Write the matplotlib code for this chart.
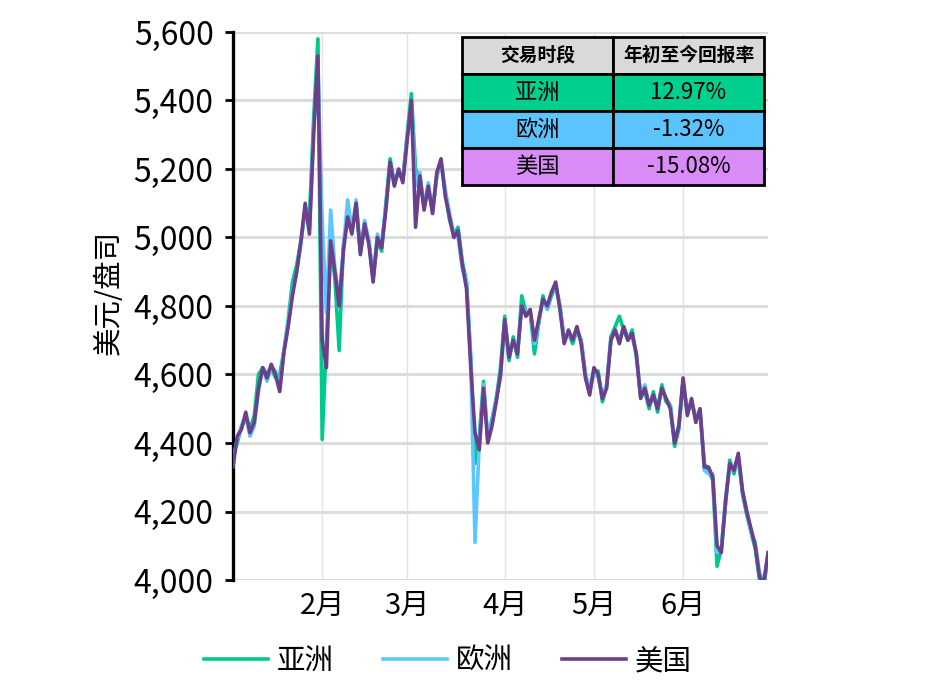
import numpy as np
import matplotlib
matplotlib.use('Agg')
import matplotlib.pyplot as plt
from matplotlib.ticker import FuncFormatter

plt.rcParams['font.family'] = ['Noto Sans CJK SC', 'DejaVu Sans']

# =====================================================================
# DATOS (índice de día hábil, ene-jun)
# =====================================================================
mes_pos = [21, 41, 64, 85, 106]
mes_lab = ['2月', '3月', '4月', '5月', '6月']

asia = [4360, 4400, 4450, 4470, 4440, 4480, 4600, 4620, 4600, 4620,
        4590, 4600, 4670, 4760, 4870, 4920, 4990, 5080, 5060, 5350,
        5580, 4410, 4700, 4980, 4880, 4670, 4980, 5050, 5020, 5090,
        4960, 5030, 4990, 4880, 4990, 4960, 5100, 5230, 5160, 5190,
        5170, 5300, 5420, 5200, 5170, 5090, 5140, 5080, 5180, 5220,
        5130, 5050, 5010, 5030, 4930, 4870, 4650, 4340, 4420, 4580,
        4410, 4470, 4530, 4620, 4770, 4640, 4710, 4650, 4830, 4780,
        4780, 4660, 4750, 4830, 4790, 4830, 4860, 4800, 4700, 4720,
        4690, 4730, 4700, 4600, 4550, 4610, 4610, 4520, 4570, 4710,
        4740, 4770, 4730, 4700, 4730, 4650, 4540, 4550, 4500, 4550,
        4490, 4570, 4520, 4510, 4390, 4440, 4580, 4490, 4520, 4470,
        4490, 4340, 4320, 4290, 4040, 4090, 4220, 4350, 4310, 4360,
        4250, 4190, 4140, 4090, 4000, 3980, 4070]

europa = [4350, 4410, 4450, 4480, 4420, 4450, 4550, 4620, 4580, 4620,
          4610, 4560, 4670, 4750, 4840, 4900, 4980, 5090, 5020, 5320,
          5480, 5050, 4780, 5080, 4910, 4820, 4970, 5110, 5020, 5110,
          4960, 5050, 4990, 4880, 5010, 4980, 5090, 5210, 5160, 5190,
          5170, 5290, 5390, 5150, 5190, 5090, 5160, 5070, 5180, 5220,
          5140, 5070, 5010, 5000, 4910, 4870, 4640, 4110, 4400, 4570,
          4420, 4460, 4530, 4590, 4760, 4660, 4700, 4670, 4800, 4780,
          4780, 4690, 4750, 4820, 4790, 4840, 4860, 4800, 4700, 4720,
          4700, 4730, 4700, 4600, 4560, 4610, 4590, 4540, 4570, 4700,
          4730, 4700, 4740, 4710, 4710, 4660, 4540, 4570, 4510, 4530,
          4510, 4560, 4530, 4510, 4410, 4450, 4580, 4490, 4520, 4470,
          4500, 4320, 4310, 4310, 4080, 4090, 4240, 4340, 4320, 4360,
          4260, 4200, 4140, 4110, 4020, 4000, 4070]

eeuu = [4330, 4420, 4440, 4490, 4430, 4460, 4560, 4620, 4590, 4630,
        4600, 4550, 4665, 4740, 4830, 4900, 4990, 5100, 5010, 5300,
        5530, 4700, 4620, 4990, 4900, 4800, 4960, 5060, 5010, 5100,
        4950, 5040, 4980, 4870, 5000, 4970, 5080, 5220, 5150, 5200,
        5160, 5280, 5400, 5030, 5180, 5080, 5150, 5070, 5190, 5230,
        5120, 5060, 5000, 5020, 4920, 4850, 4620, 4430, 4380, 4560,
        4400, 4450, 4520, 4600, 4760, 4650, 4700, 4660, 4800, 4770,
        4790, 4700, 4760, 4820, 4800, 4840, 4870, 4790, 4690, 4730,
        4700, 4740, 4690, 4590, 4540, 4620, 4600, 4530, 4560, 4700,
        4730, 4690, 4740, 4700, 4720, 4660, 4530, 4560, 4510, 4540,
        4500, 4560, 4530, 4500, 4400, 4450, 4590, 4480, 4530, 4460,
        4500, 4330, 4330, 4300, 4100, 4080, 4230, 4340, 4320, 4370,
        4260, 4200, 4150, 4100, 4010, 3990, 4080]

tabla_col = ['交易时段', '年初至今回报率']
tabla_reg = ['亚洲', '欧洲', '美国']
tabla_ret = ['12.97%', '-1.32%', '-15.08%']

COLOR_LINEA = {'亚洲': '#00C98D', '欧洲': '#5CC6FF', '美国': '#6C3F8C'}
COLOR_TABLA = {'亚洲': '#00CF8F', '欧洲': '#5CC4FC', '美国': '#D98CF7'}

# =====================================================================
# FIGURA
# =====================================================================
fig = plt.figure(figsize=(9.53, 6.83), dpi=100, facecolor='white')
ax = fig.add_axes([233 / 953, 1 - 580 / 683, 535 / 953, 548 / 683])

dias = np.arange(len(eeuu))
for nombre, serie in zip(tabla_reg, [asia, europa, eeuu]):
    ax.plot(dias, serie, color=COLOR_LINEA[nombre], lw=2.6,
            solid_joinstyle='round', label=nombre, zorder=3)

ax.set_xlim(0, 126)
ax.set_ylim(4000, 5600)
ax.set_yticks(np.arange(4000, 5601, 200))
ax.yaxis.set_major_formatter(FuncFormatter(lambda v, p: f'{v:,.0f}'))
ax.set_xticks(mes_pos)
ax.set_xticklabels(mes_lab)

ax.grid(axis='y', color='#dcdcdc', lw=2.2, zorder=0)
ax.grid(axis='x', color='#e3e3e3', lw=1.0, zorder=0)
ax.set_axisbelow(True)

for s in ['top', 'right', 'bottom']:
    ax.spines[s].set_visible(False)
ax.spines['left'].set_linewidth(2.4)
ax.tick_params(axis='y', length=6, width=2, labelsize=23, pad=8)
ax.tick_params(axis='x', length=0, labelsize=21, pad=8)
ax.set_ylabel('美元/盘司', fontsize=20.5)
ax.yaxis.set_label_coords(-0.205, 0.525)

# Tabla de rendimientos
celdas = [[r, v] for r, v in zip(tabla_reg, tabla_ret)]
colores = [[COLOR_TABLA[r]] * 2 for r in tabla_reg]
tb = ax.table(cellText=celdas, colLabels=tabla_col, cellColours=colores,
              colColours=['#d9d9d9', '#d9d9d9'], cellLoc='center',
              bbox=[0.428, 0.7208, 0.5645, 0.2702], zorder=5)
tb.auto_set_font_size(False)
for (r, c), cell in tb.get_celld().items():
    cell.set_linewidth(2)
    cell.set_edgecolor('black')
    if r == 0:
        cell.get_text().set_fontsize(13.5)
        cell.get_text().set_fontweight('bold')
    else:
        cell.get_text().set_fontsize(16)

fig.legend(loc='center', bbox_to_anchor=(0.470, 0.032), ncol=3,
           frameon=False, fontsize=20.5, handlelength=2.25,
           columnspacing=1.72, handletextpad=0.32)

plt.savefig('out.png', dpi=100, facecolor='white')
